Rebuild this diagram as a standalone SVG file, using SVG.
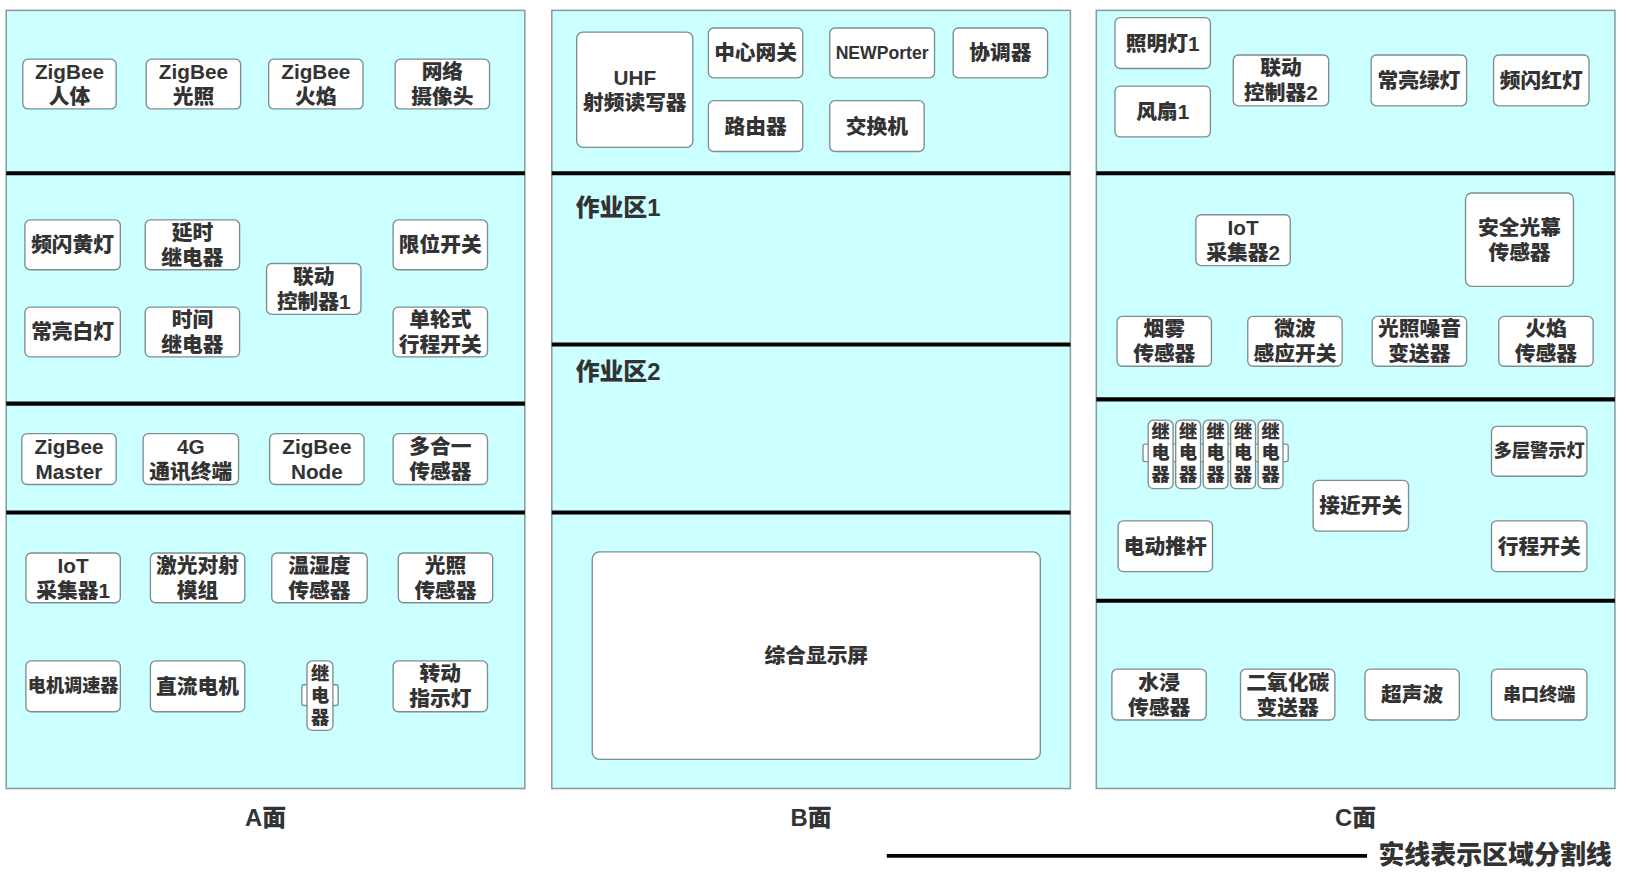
<svg xmlns="http://www.w3.org/2000/svg" width="1626" height="878" viewBox="0 0 1626 878">
<style>
.panel{fill:#ccffff;stroke:#8c9c9c;stroke-width:1.5}
.div{stroke:#000;stroke-width:4}
.nd{fill:#fff;stroke:#7d8e8e;stroke-width:1.3}
text{font-family:"Liberation Sans","Noto Sans CJK SC",sans-serif;font-weight:900;fill:#333;text-anchor:middle;dominant-baseline:central}
.t{font-size:20px}
.s{font-size:17.5px}
.r{font-size:17.5px}
.lab{font-size:23px}
.zone{font-size:23px;text-anchor:start}
.leg{font-size:25px;text-anchor:start}
</style>
<rect x="0" y="0" width="1626" height="878" fill="#fff"/>
<g transform="scale(1.0372 1.0375)">
<g id="panels">
<rect id="panelA" class="panel" x="6" y="10" width="500" height="750"/>
<rect id="panelB" class="panel" x="532" y="10" width="500" height="750"/>
<rect id="panelC" class="panel" x="1057" y="10" width="500" height="750"/>
</g>
<g id="connectors">
<line class="div" x1="6" y1="167" x2="506" y2="167"/>
<line class="div" x1="6" y1="389" x2="506" y2="389"/>
<line class="div" x1="6" y1="494" x2="506" y2="494"/>
<line class="div" x1="532" y1="167" x2="1032" y2="167"/>
<line class="div" x1="532" y1="332" x2="1032" y2="332"/>
<line class="div" x1="532" y1="494" x2="1032" y2="494"/>
<line class="div" x1="1057" y1="167" x2="1557" y2="167"/>
<line class="div" x1="1057" y1="385" x2="1557" y2="385"/>
<line class="div" x1="1057" y1="579" x2="1557" y2="579"/>
<line x1="855" y1="825" x2="1318" y2="825" stroke="#000" stroke-width="3.5"/>
</g>
<!-- Panel A -->
<g id="a_zb_body"><rect class="nd" x="22" y="57" width="90" height="48" rx="5"/><text class="t" x="67" y="69">ZigBee</text><text class="t" x="67" y="93">人体</text></g>
<g id="a_zb_light"><rect class="nd" x="141" y="57" width="91" height="48" rx="5"/><text class="t" x="186.5" y="69">ZigBee</text><text class="t" x="186.5" y="93">光照</text></g>
<g id="a_zb_fire"><rect class="nd" x="259" y="57" width="91" height="48" rx="5"/><text class="t" x="304.5" y="69">ZigBee</text><text class="t" x="304.5" y="93">火焰</text></g>
<g id="a_cam"><rect class="nd" x="381" y="57" width="91" height="48" rx="5"/><text class="t" x="426.5" y="69">网络</text><text class="t" x="426.5" y="93">摄像头</text></g>
<g id="a_yellow"><rect class="nd" x="24" y="212" width="92" height="48" rx="5"/><text class="t" x="70" y="236">频闪黄灯</text></g>
<g id="a_delay"><rect class="nd" x="140" y="212" width="91" height="48" rx="5"/><text class="t" x="185.5" y="224">延时</text><text class="t" x="185.5" y="248">继电器</text></g>
<g id="a_limit"><rect class="nd" x="379" y="212" width="91" height="48" rx="5"/><text class="t" x="424.5" y="236">限位开关</text></g>
<g id="a_ctrl1"><rect class="nd" x="257" y="254" width="91" height="49" rx="5"/><text class="t" x="302.5" y="266.5">联动</text><text class="t" x="302.5" y="290.5">控制器1</text></g>
<g id="a_white"><rect class="nd" x="24" y="296" width="92" height="48" rx="5"/><text class="t" x="70" y="320">常亮白灯</text></g>
<g id="a_time"><rect class="nd" x="140" y="296" width="91" height="48" rx="5"/><text class="t" x="185.5" y="308">时间</text><text class="t" x="185.5" y="332">继电器</text></g>
<g id="a_travel"><rect class="nd" x="379" y="296" width="91" height="48" rx="5"/><text class="t" x="424.5" y="308">单轮式</text><text class="t" x="424.5" y="332">行程开关</text></g>
<g id="a_master"><rect class="nd" x="21" y="418" width="91" height="49" rx="5"/><text class="t" x="66.5" y="430.5">ZigBee</text><text class="t" x="66.5" y="454.5">Master</text></g>
<g id="a_4g"><rect class="nd" x="138" y="418" width="92" height="49" rx="5"/><text class="t" x="184" y="430.5">4G</text><text class="t" x="184" y="454.5">通讯终端</text></g>
<g id="a_node"><rect class="nd" x="260" y="418" width="91" height="49" rx="5"/><text class="t" x="305.5" y="430.5">ZigBee</text><text class="t" x="305.5" y="454.5">Node</text></g>
<g id="a_multi"><rect class="nd" x="379" y="418" width="91" height="49" rx="5"/><text class="t" x="424.5" y="430.5">多合一</text><text class="t" x="424.5" y="454.5">传感器</text></g>
<g id="a_iot1"><rect class="nd" x="25" y="533" width="91" height="48" rx="5"/><text class="t" x="70.5" y="545">IoT</text><text class="t" x="70.5" y="569">采集器1</text></g>
<g id="a_laser"><rect class="nd" x="145" y="533" width="91" height="48" rx="5"/><text class="t" x="190.5" y="545">激光对射</text><text class="t" x="190.5" y="569">模组</text></g>
<g id="a_th"><rect class="nd" x="262" y="533" width="92" height="48" rx="5"/><text class="t" x="308" y="545">温湿度</text><text class="t" x="308" y="569">传感器</text></g>
<g id="a_lux"><rect class="nd" x="384" y="533" width="91" height="48" rx="5"/><text class="t" x="429.5" y="545">光照</text><text class="t" x="429.5" y="569">传感器</text></g>
<g id="a_speed"><rect class="nd" x="25" y="637" width="91" height="49" rx="5"/><text class="s" x="70.5" y="661.5">电机调速器</text></g>
<g id="a_dc"><rect class="nd" x="145" y="637" width="91" height="49" rx="5"/><text class="t" x="190.5" y="661.5">直流电机</text></g>
<g id="a_relay"><rect class="nd" x="291" y="660" width="35" height="20" rx="2"/><rect class="nd" x="296" y="637" width="25" height="67" rx="5"/><text class="r" x="308.5" y="650">继</text><text class="r" x="308.5" y="671">电</text><text class="r" x="308.5" y="692">器</text></g>
<g id="a_turn"><rect class="nd" x="379" y="637" width="91" height="49" rx="5"/><text class="t" x="424.5" y="649.5">转动</text><text class="t" x="424.5" y="673.5">指示灯</text></g>
<!-- Panel B -->
<g id="b_uhf"><rect class="nd" x="556" y="31" width="112" height="111" rx="6"/><text class="t" x="612" y="75">UHF</text><text class="t" x="612" y="99">射频读写器</text></g>
<g id="b_gw"><rect class="nd" x="683" y="27" width="91" height="48" rx="5"/><text class="t" x="728.5" y="51">中心网关</text></g>
<g id="b_newp"><rect class="nd" x="800" y="27" width="101" height="48" rx="5"/><text x="850.5" y="51" style="font-size:17px">NEWPorter</text></g>
<g id="b_coord"><rect class="nd" x="919" y="27" width="91" height="48" rx="5"/><text class="t" x="964.5" y="51">协调器</text></g>
<g id="b_router"><rect class="nd" x="683" y="97" width="91" height="49" rx="5"/><text class="t" x="728.5" y="121.5">路由器</text></g>
<g id="b_switch"><rect class="nd" x="800" y="97" width="91" height="49" rx="5"/><text class="t" x="845.5" y="121.5">交换机</text></g>
<g id="b_zone1"><text class="zone" x="555" y="200">作业区1</text></g>
<g id="b_zone2"><text class="zone" x="555" y="358">作业区2</text></g>
<g id="b_screen"><rect class="nd" x="571" y="532" width="432" height="200" rx="7"/><text class="t" x="787" y="632">综合显示屏</text></g>
<!-- Panel C -->
<g id="c_light1"><rect class="nd" x="1075" y="17" width="92" height="49" rx="5"/><text class="t" x="1121" y="41.5">照明灯1</text></g>
<g id="c_fan1"><rect class="nd" x="1075" y="83" width="92" height="49" rx="5"/><text class="t" x="1121" y="107.5">风扇1</text></g>
<g id="c_ctrl2"><rect class="nd" x="1189" y="53" width="92" height="49" rx="5"/><text class="t" x="1235" y="65.5">联动</text><text class="t" x="1235" y="89.5">控制器2</text></g>
<g id="c_green"><rect class="nd" x="1322" y="53" width="92" height="49" rx="5"/><text class="t" x="1368" y="77.5">常亮绿灯</text></g>
<g id="c_red"><rect class="nd" x="1440" y="53" width="92" height="49" rx="5"/><text class="t" x="1486" y="77.5">频闪红灯</text></g>
<g id="c_iot2"><rect class="nd" x="1153" y="207" width="91" height="49" rx="5"/><text class="t" x="1198.5" y="219.5">IoT</text><text class="t" x="1198.5" y="243.5">采集器2</text></g>
<g id="c_curtain"><rect class="nd" x="1413" y="186" width="104" height="90" rx="6"/><text class="t" x="1465" y="219">安全光幕</text><text class="t" x="1465" y="243">传感器</text></g>
<g id="c_smoke"><rect class="nd" x="1077" y="305" width="91" height="48" rx="5"/><text class="t" x="1122.5" y="317">烟雾</text><text class="t" x="1122.5" y="341">传感器</text></g>
<g id="c_micro"><rect class="nd" x="1203" y="305" width="91" height="48" rx="5"/><text class="t" x="1248.5" y="317">微波</text><text class="t" x="1248.5" y="341">感应开关</text></g>
<g id="c_noise"><rect class="nd" x="1323" y="305" width="91" height="48" rx="5"/><text class="t" x="1368.5" y="317">光照噪音</text><text class="t" x="1368.5" y="341">变送器</text></g>
<g id="c_fire"><rect class="nd" x="1445" y="305" width="91" height="48" rx="5"/><text class="t" x="1490.5" y="317">火焰</text><text class="t" x="1490.5" y="341">传感器</text></g>
<g id="c_relay_tabs"><rect class="nd" x="1102" y="428" width="140" height="17" rx="2"/></g>
<g id="c_relay1"><rect class="nd" x="1107" y="405" width="24" height="66" rx="5"/><text class="r" x="1119" y="416">继</text><text class="r" x="1119" y="437">电</text><text class="r" x="1119" y="458">器</text></g>
<g id="c_relay2"><rect class="nd" x="1133.5" y="405" width="24" height="66" rx="5"/><text class="r" x="1145.5" y="416">继</text><text class="r" x="1145.5" y="437">电</text><text class="r" x="1145.5" y="458">器</text></g>
<g id="c_relay3"><rect class="nd" x="1160" y="405" width="24" height="66" rx="5"/><text class="r" x="1172" y="416">继</text><text class="r" x="1172" y="437">电</text><text class="r" x="1172" y="458">器</text></g>
<g id="c_relay4"><rect class="nd" x="1186.5" y="405" width="24" height="66" rx="5"/><text class="r" x="1198.5" y="416">继</text><text class="r" x="1198.5" y="437">电</text><text class="r" x="1198.5" y="458">器</text></g>
<g id="c_relay5"><rect class="nd" x="1213" y="405" width="24" height="66" rx="5"/><text class="r" x="1225" y="416">继</text><text class="r" x="1225" y="437">电</text><text class="r" x="1225" y="458">器</text></g>
<g id="c_warn"><rect class="nd" x="1438" y="411" width="92" height="48" rx="5"/><text class="s" x="1484" y="435">多层警示灯</text></g>
<g id="c_prox"><rect class="nd" x="1266" y="463" width="92" height="49" rx="5"/><text class="t" x="1312" y="487.5">接近开关</text></g>
<g id="c_push"><rect class="nd" x="1078" y="502" width="91" height="49" rx="5"/><text class="t" x="1123.5" y="526.5">电动推杆</text></g>
<g id="c_travel"><rect class="nd" x="1438" y="502" width="92" height="49" rx="5"/><text class="t" x="1484" y="526.5">行程开关</text></g>
<g id="c_water"><rect class="nd" x="1072" y="645" width="91" height="49" rx="5"/><text class="t" x="1117.5" y="657.5">水浸</text><text class="t" x="1117.5" y="681.5">传感器</text></g>
<g id="c_co2"><rect class="nd" x="1196" y="645" width="91" height="49" rx="5"/><text class="t" x="1241.5" y="657.5">二氧化碳</text><text class="t" x="1241.5" y="681.5">变送器</text></g>
<g id="c_ultra"><rect class="nd" x="1316" y="645" width="91" height="49" rx="5"/><text class="t" x="1361.5" y="669.5">超声波</text></g>
<g id="c_serial"><rect class="nd" x="1438" y="645" width="92" height="49" rx="5"/><text class="s" x="1484" y="669.5">串口终端</text></g>
<!-- labels -->
<g id="labels">
<text class="lab" x="256" y="788">A面</text>
<text class="lab" x="782" y="788">B面</text>
<text class="lab" x="1307" y="788">C面</text>
<text class="leg" x="1329" y="824">实线表示区域分割线</text>
</g>
</g>
</svg>
